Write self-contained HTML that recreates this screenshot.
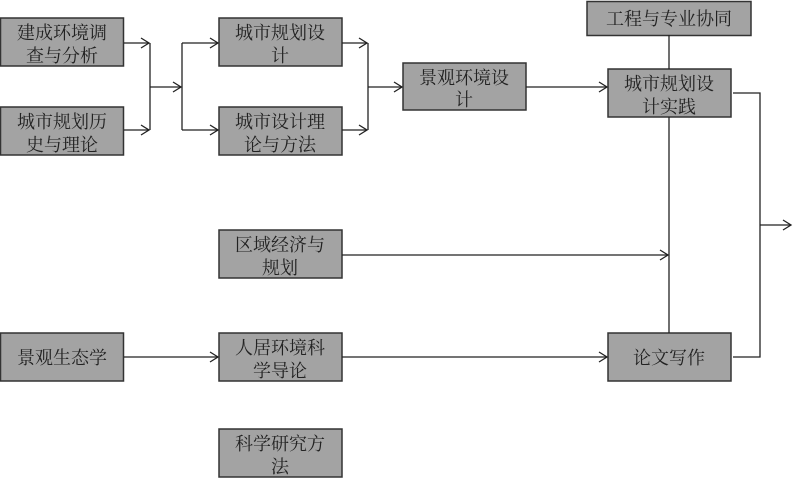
<!DOCTYPE html>
<html><head><meta charset="utf-8"><style>
html,body{margin:0;padding:0;background:#fff;}
svg{display:block;}
text{font-family:"Liberation Serif","Noto Serif CJK SC",serif;font-size:18px;fill:#222;text-anchor:middle;}
rect{fill:#a3a3a3;stroke:#333;stroke-width:1.5;}
line,polyline{stroke:#222;stroke-width:1.3;fill:none;}
</style></head><body>
<svg width="799" height="487" viewBox="0 0 799 487" xmlns="http://www.w3.org/2000/svg">
<defs><marker id="a" markerWidth="12" markerHeight="12" refX="10" refY="6" orient="auto" markerUnits="userSpaceOnUse"><polyline points="2,1 10,6 2,11" style="stroke:#222;stroke-width:1.3;fill:none"/></marker></defs>
<!-- boxes -->
<rect x="0.5" y="18" width="123" height="48"/><text x="62" y="39">建成环境调</text><text x="62" y="62">查与分析</text>
<rect x="0.5" y="107" width="123" height="48"/><text x="62" y="128">城市规划历</text><text x="62" y="151">史与理论</text>
<rect x="219" y="18" width="123" height="48"/><text x="280" y="39">城市规划设</text><text x="280" y="62">计</text>
<rect x="219" y="107" width="123" height="48"/><text x="280" y="128">城市设计理</text><text x="280" y="151">论与方法</text>
<rect x="403" y="63" width="123" height="47"/><text x="464" y="84">景观环境设</text><text x="464" y="106">计</text>
<rect x="587" y="1.5" width="164" height="34"/><text x="669" y="25">工程与专业协同</text>
<rect x="608" y="69" width="123" height="48"/><text x="669" y="90">城市规划设</text><text x="669" y="113">计实践</text>
<rect x="219" y="230" width="123" height="48"/><text x="280" y="251">区域经济与</text><text x="280" y="274">规划</text>
<rect x="0.5" y="333" width="123" height="48"/><text x="62" y="364">景观生态学</text>
<rect x="219" y="333" width="123" height="48"/><text x="280" y="354">人居环境科</text><text x="280" y="377">学导论</text>
<rect x="608" y="333" width="123" height="48"/><text x="669" y="364">论文写作</text>
<rect x="219" y="429" width="123" height="48"/><text x="280" y="450">科学研究方</text><text x="280" y="473">法</text>
<!-- connectors -->
<line x1="124" y1="43" x2="149" y2="43" marker-end="url(#a)"/>
<line x1="124" y1="130" x2="149" y2="130" marker-end="url(#a)"/>
<line x1="150" y1="43" x2="150" y2="130"/>
<line x1="150" y1="87" x2="181" y2="87" marker-end="url(#a)"/>
<line x1="182" y1="43" x2="182" y2="130"/>
<line x1="182" y1="43" x2="218" y2="43" marker-end="url(#a)"/>
<line x1="182" y1="130" x2="218" y2="130" marker-end="url(#a)"/>
<line x1="342" y1="43" x2="367" y2="43" marker-end="url(#a)"/>
<line x1="342" y1="130" x2="367" y2="130" marker-end="url(#a)"/>
<line x1="368" y1="43" x2="368" y2="130"/>
<line x1="368" y1="87" x2="402" y2="87" marker-end="url(#a)"/>
<line x1="526" y1="87" x2="607" y2="87" marker-end="url(#a)"/>
<line x1="669" y1="35" x2="669" y2="69"/>
<line x1="669" y1="117" x2="669" y2="333"/>
<line x1="342" y1="255" x2="668" y2="255" marker-end="url(#a)"/>
<line x1="124" y1="357" x2="218" y2="357" marker-end="url(#a)"/>
<line x1="342" y1="357" x2="607" y2="357" marker-end="url(#a)"/>
<polyline points="733,93 760,93 760,357 733,357"/>
<line x1="760" y1="225" x2="791" y2="225" marker-end="url(#a)"/>
</svg>
</body></html>
